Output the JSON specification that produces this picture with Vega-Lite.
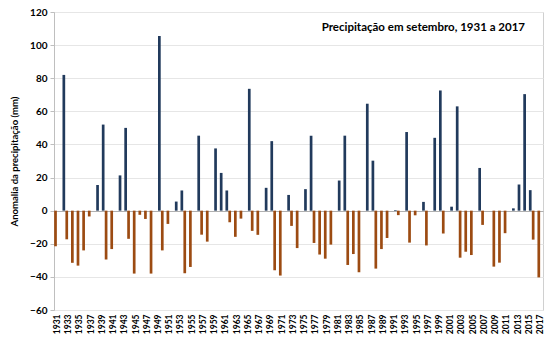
{
  "$schema": "https://vega.github.io/schema/vega-lite/v6.json",
  "width": 489,
  "height": 298,
  "autosize": {"type": "none"},
  "padding": {"left": 54, "top": 12, "right": 16, "bottom": 46},
  "background": "white",
  "config": {
    "font": "Lato",
    "view": {"stroke": "#d0d0d0", "strokeWidth": 1}
  },
  "title": {
    "text": "Precipitação em setembro, 1931 a 2017",
    "anchor": "end",
    "orient": "top",
    "frame": "group",
    "fontSize": 11.5,
    "fontWeight": "bold",
    "font": "Lato",
    "color": "#000000",
    "offset": -26,
    "dx": -18
  },
  "data": {
    "values": [
      {"ano": 1931, "v": -21.5}, {"ano": 1932, "v": 82}, {"ano": 1933, "v": -17.3}, {"ano": 1934, "v": -31.5},
      {"ano": 1935, "v": -33.2}, {"ano": 1936, "v": -24}, {"ano": 1937, "v": -3.5}, {"ano": 1938, "v": 15.5},
      {"ano": 1939, "v": 52}, {"ano": 1940, "v": -29.5}, {"ano": 1941, "v": -23.2}, {"ano": 1942, "v": 21.3},
      {"ano": 1943, "v": 50}, {"ano": 1944, "v": -17}, {"ano": 1945, "v": -38}, {"ano": 1946, "v": -2.5},
      {"ano": 1947, "v": -5}, {"ano": 1948, "v": -38}, {"ano": 1949, "v": 105.5}, {"ano": 1950, "v": -24},
      {"ano": 1951, "v": -8}, {"ano": 1952, "v": 5.5}, {"ano": 1953, "v": 12.2}, {"ano": 1954, "v": -37.8},
      {"ano": 1955, "v": -34}, {"ano": 1956, "v": 45.3}, {"ano": 1957, "v": -14.5}, {"ano": 1958, "v": -18.7},
      {"ano": 1959, "v": 37.6}, {"ano": 1960, "v": 22.8}, {"ano": 1961, "v": 12.2}, {"ano": 1962, "v": -7},
      {"ano": 1963, "v": -15.8}, {"ano": 1964, "v": -4.8}, {"ano": 1965, "v": 73.6}, {"ano": 1966, "v": -12.2},
      {"ano": 1967, "v": -14.6}, {"ano": 1968, "v": 13.8}, {"ano": 1969, "v": 42}, {"ano": 1970, "v": -36},
      {"ano": 1971, "v": -39.2}, {"ano": 1972, "v": 9.5}, {"ano": 1973, "v": -9.2}, {"ano": 1974, "v": -22.6},
      {"ano": 1975, "v": 13}, {"ano": 1976, "v": 45.3}, {"ano": 1977, "v": -19.5}, {"ano": 1978, "v": -26.5},
      {"ano": 1979, "v": -29}, {"ano": 1980, "v": -20.5}, {"ano": 1981, "v": 18.2}, {"ano": 1982, "v": 45.3},
      {"ano": 1983, "v": -32.8}, {"ano": 1984, "v": -26.2}, {"ano": 1985, "v": -37.2}, {"ano": 1986, "v": 64.6},
      {"ano": 1987, "v": 30.2}, {"ano": 1988, "v": -35}, {"ano": 1989, "v": -23.2}, {"ano": 1990, "v": -16.5},
      {"ano": 1991, "v": 0.4}, {"ano": 1992, "v": -2.7}, {"ano": 1993, "v": 47.5}, {"ano": 1994, "v": -19.3},
      {"ano": 1995, "v": -2.8}, {"ano": 1996, "v": 5.3}, {"ano": 1997, "v": -21}, {"ano": 1998, "v": 44},
      {"ano": 1999, "v": 72.6}, {"ano": 2000, "v": -13.8}, {"ano": 2001, "v": 2.4}, {"ano": 2002, "v": 63},
      {"ano": 2003, "v": -28.4}, {"ano": 2004, "v": -24.8}, {"ano": 2005, "v": -26.8}, {"ano": 2006, "v": 25.8},
      {"ano": 2007, "v": -8.6}, {"ano": 2008, "v": 0}, {"ano": 2009, "v": -33.8}, {"ano": 2010, "v": -31.4},
      {"ano": 2011, "v": -13.6}, {"ano": 2012, "v": 1.4}, {"ano": 2013, "v": 15.8}, {"ano": 2014, "v": 70.4},
      {"ano": 2015, "v": 12.4}, {"ano": 2016, "v": -17.5}, {"ano": 2017, "v": -40.3}
    ]
  },
  "transform": [
    {"calculate": "datum.v >= 0 ? 'pos' : 'neg'", "as": "sinal"}
  ],
  "mark": {"type": "bar"},
  "encoding": {
    "x": {
      "field": "ano",
      "type": "ordinal",
      "scale": {"paddingInner": 0.04, "paddingOuter": 0.03},
      "axis": {
        "title": null,
        "labelAngle": -90,
        "labelExpr": "datum.value % 2 == 1 ? datum.label : ''",
        "labelFontSize": 8.5,
        "labelFontWeight": "bold",
        "labelColor": "#000000",
        "labelPadding": 4,
        "labelOverlap": false,
        "ticks": false,
        "domain": false,
        "labelBaseline": "middle",
        "labelAlign": "right"
      }
    },
    "xOffset": {"field": "sinal", "type": "nominal", "scale": {"domain": ["neg", "pos"], "paddingInner": 0, "paddingOuter": 0}},
    "y": {
      "field": "v",
      "type": "quantitative",
      "scale": {"domain": [-60, 120], "nice": false},
      "axis": {
        "title": "Anomalia da precipitação (mm)",
        "titleFontSize": 9.5,
        "titleFontWeight": "bold",
        "titleColor": "#000000",
        "titlePadding": 10,
        "values": [-60, -40, -20, 0, 20, 40, 60, 80, 100, 120],
        "labelOverlap": false,
        "labelFontSize": 10,
        "labelFontWeight": "bold",
        "labelColor": "#000000",
        "tickSize": 4,
        "tickColor": "#bfbfbf",
        "domainColor": "#bfbfbf",
        "gridColor": {"condition": {"test": "datum.value === 0", "value": "#b0b0b0"}, "value": "#e6e6e6"},
        "labelPadding": 3
      }
    },
    "color": {
      "field": "sinal",
      "type": "nominal",
      "scale": {"domain": ["pos", "neg"], "range": ["#213a5c", "#9c4b12"]},
      "legend": null
    }
  }
}
